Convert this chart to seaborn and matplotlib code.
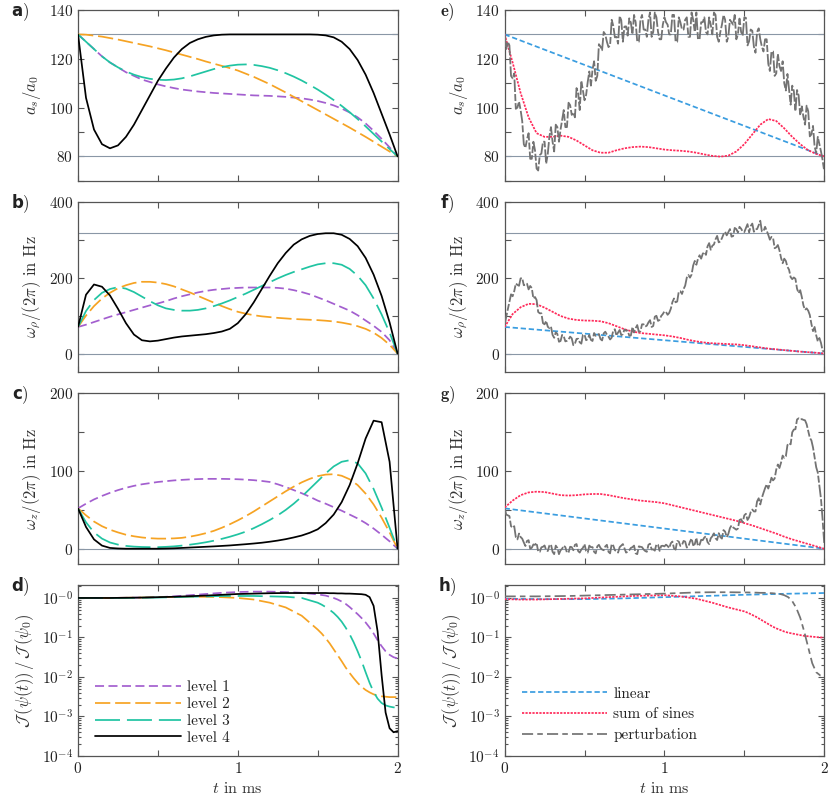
import numpy as np
import matplotlib
matplotlib.use('Agg')
import matplotlib.pyplot as plt
from matplotlib.ticker import AutoMinorLocator, LogLocator, NullFormatter
import seaborn as sns

# time grids (ms)
t = np.round(np.arange(0, 2.0001, 0.05), 3)
t_even = np.round(np.arange(0, 2.0001, 0.02), 3)
t_odd = np.round(np.arange(0.01, 2.0, 0.02), 3)
t_log = np.round(np.concatenate([np.arange(0, 1.5001, 0.1), np.arange(1.525, 2.0001, 0.025)]), 3)
t_lin = [0.0, 2.0]
t_lin_log = [0, 0.25, 0.5, 0.75, 1.0, 1.25, 1.5, 1.75, 2.0]

# ---- panel a: scattering length a_s/a_0
a_level1 = [130, 127, 124, 121, 118.5, 116.5, 114.5, 113, 111.5, 110.5, 109.5, 108.7, 108, 107.4, 107,
            106.6, 106.3, 106, 105.8, 105.6, 105.4, 105.2, 105, 104.9, 104.8, 104.6, 104.4, 104.1, 103.8,
            103.3, 102.7, 101.9, 100.9, 99.6, 98, 96, 93.5, 90.5, 87.2, 83.7, 80]
a_level2 = [130, 129.9, 129.5, 129.1, 128.5, 127.9, 127.2, 126.5, 125.8, 125.1, 124.3, 123.5, 122.6, 121.7,
            120.8, 119.9, 118.9, 118, 117.1, 116.2, 115.2, 113.9, 112.6, 111.1, 109.6, 107.9, 106.2, 104.4,
            102.6, 100.8, 99, 97.2, 95.4, 93.6, 91.8, 89.9, 88, 86, 84, 82, 80]
a_level3 = [130, 127, 124, 121, 118.5, 116.5, 114.8, 113.5, 112.5, 111.8, 111.4, 111.3, 111.5, 112, 112.8,
            113.8, 114.8, 115.8, 116.6, 117.2, 117.6, 117.7, 117.5, 117, 116.3, 115.3, 114.1, 112.7, 111.1,
            109.3, 107.4, 105.3, 103.1, 100.7, 98.1, 95.3, 92.3, 89.2, 86.1, 83, 80]
a_level4 = [130, 104, 91, 85, 83.3, 84.5, 88, 93, 99, 105, 111, 116, 120.5, 124, 126.5, 128, 129, 129.6,
            129.9, 130, 130, 130, 130, 130, 130, 130, 130, 130, 130, 130, 129.9, 129.6, 128.8, 127, 124,
            119.5, 113.5, 106, 97.5, 89, 80]

# ---- panel b: omega_rho/(2 pi) in Hz
b_level1 = [70, 76, 83, 90, 97, 103, 109, 115, 121, 127, 132, 138, 145, 151, 156, 161, 165, 168, 170, 172,
            173, 174, 174, 174, 174, 173, 171, 167, 162, 156, 148, 140, 131, 122, 113, 101, 87, 73, 57, 35, 0]
b_level2 = [70, 100, 125, 145, 160, 172, 180, 186, 189, 189, 187, 183, 177, 169, 161, 152, 143, 134, 125, 117,
            110, 105, 101, 98, 96, 94, 92.5, 91, 90, 89, 88, 86.5, 84.5, 81.5, 77.5, 72, 65, 55, 41, 23, 0]
b_level3 = [70, 112, 141, 160, 170, 175, 171, 162, 150, 138, 127, 119, 115, 113, 113, 115, 119, 125, 132, 140,
            149, 158, 168, 178, 188, 198, 207, 215, 222, 229, 235, 238, 238, 234, 223, 205, 180, 145, 103, 55, 0]
b_level4 = [70, 155, 182, 176, 153, 118, 80, 50, 35, 32, 34, 38, 42, 45, 47, 49, 51, 54, 58, 65, 80, 104, 135,
            170, 205, 238, 265, 287, 301, 310, 315, 317, 317, 313, 302, 283, 252, 208, 152, 82, 0]

# ---- panel c: omega_z/(2 pi) in Hz
c_level1 = [52, 58, 63.5, 68, 72, 75.5, 78.5, 81, 83, 84.5, 86, 87, 88, 88.7, 89.3, 89.7, 90, 90, 90, 89.8,
            89.5, 89, 88.3, 87.3, 86, 83, 79.5, 75.5, 71.5, 67, 62, 58, 53.5, 49, 44, 39, 33, 26, 18, 9.5, 0]
c_level2 = [52, 43, 35, 29, 24.5, 21, 18, 16, 14.5, 13.5, 13, 13, 13.3, 14, 15.5, 17.5, 20, 23, 27, 31.5,
            36.5, 42, 48, 54.5, 61, 67.5, 74, 80, 85.5, 90, 93.5, 95.5, 96, 94, 89.5, 82, 71, 57, 40, 21, 0]
c_level3 = [52, 34, 21, 13, 8, 5.3, 3.6, 2.7, 2.2, 2, 2, 2.4, 3, 4, 5.2, 6.6, 8.3, 10.3, 12.7, 15.4, 18.5,
            22, 26.5, 31.5, 37, 43, 50, 58, 67, 77, 87, 97, 106, 112, 114, 110, 97, 77, 53, 27, 0]
c_level4 = [52, 28, 12, 4, 1, 0.3, 0, 0, 0, 0, 0, 0.2, 0.5, 1, 1.5, 2, 2.5, 3, 3.6, 4.2, 5, 5.8, 6.7, 7.7, 9,
            10.5, 12.3, 14.5, 17, 20.5, 25, 33, 44, 60, 82, 110, 142, 165, 163, 112, 0]

# ---- panel d: log10 of the fidelity ratio
d_level1 = [0, 0, 0, 0.005, 0.01, 0.02, 0.04, 0.07, 0.1, 0.13, 0.15, 0.16, 0.16, 0.15, 0.13, 0.09,
            0.075, 0.06, 0.03, 0, -0.04, -0.09, -0.15, -0.23, -0.32, -0.41, -0.51, -0.62, -0.75, -0.9,
            -1.07, -1.22, -1.35, -1.44, -1.5, -1.53]
d_level2 = [0, 0, 0, 0.005, 0.01, 0.02, 0.025, 0.03, 0.03, 0.02, 0, -0.04, -0.12, -0.24, -0.45, -0.8,
            -0.9, -1.02, -1.15, -1.3, -1.45, -1.6, -1.76, -1.9, -2.03, -2.15, -2.25, -2.33, -2.39, -2.44,
            -2.47, -2.49, -2.5, -2.51, -2.51, -2.51]
d_level3 = [0, 0, 0, 0, 0.005, 0.01, 0.02, 0.03, 0.04, 0.05, 0.05, 0.05, 0.04, 0.03, 0, -0.12,
            -0.17, -0.23, -0.3, -0.38, -0.48, -0.6, -0.75, -0.92, -1.12, -1.35, -1.6, -1.88, -2.15, -2.38,
            -2.55, -2.66, -2.72, -2.75, -2.77, -2.77]
d_level4 = [0, 0, 0, 0.005, 0.01, 0.02, 0.03, 0.045, 0.06, 0.08, 0.1, 0.11, 0.12, 0.125, 0.125, 0.125,
            0.125, 0.125, 0.12, 0.12, 0.115, 0.115, 0.11, 0.11, 0.105, 0.1, 0.095, 0.08, 0.02, -0.2,
            -0.85, -1.95, -2.9, -3.3, -3.4, -3.37]

# ---- right column: linear ramp, sum of sines, perturbation
e_linear = [130, 80]
f_linear = [70, 0]
g_linear = [52, 0]
e_sines = [130, 118.5, 106, 96, 89.5, 88, 88, 88.5, 88, 86.5, 84.5, 82.5, 81.5, 81.5, 82.5, 83.3, 83.8, 84,
           83.8, 83.3, 82.8, 82.5, 82.3, 82, 81.5, 80.8, 80.2, 79.9, 80.3, 82, 85, 89, 93, 95.3, 94.5, 91.5,
           88, 85, 82.5, 81, 80]
f_sines = [70, 104, 122, 131, 130, 121, 110, 99, 92, 88.5, 87, 86.5, 85, 80, 72, 64, 58, 54, 52, 50, 48, 45,
           41, 36, 32, 29, 27, 26, 25, 24, 22, 19, 16, 13, 11, 9, 7, 5, 3.5, 2, 0]
g_sines = [53, 62, 69, 72.5, 73.5, 73, 71, 69, 68.5, 69, 70, 70.5, 70.5, 69, 67, 65, 63.5, 62, 61, 60, 58.5,
           56, 53.5, 51, 48.5, 46, 43.5, 41, 38.5, 36, 33, 30, 26.5, 23, 19.5, 15.5, 12, 9, 6, 3, 0]

# noisy perturbation guess, read on t_even and t_odd
e_perturb_even = [130, 127, 113, 114, 100, 99, 85, 87, 79, 86, 75, 80.5, 86, 77, 88, 86, 93, 86, 95, 92, 102,
                  97, 96, 106, 111, 103, 110.5, 109, 119, 113, 125, 131, 127, 125.5, 133.5, 129, 137.5, 127,
                  133.3, 136.6, 130, 135, 127, 138, 132, 136, 129, 139, 131, 128, 137, 134, 130, 138, 127,
                  135, 132, 137, 129, 136, 139, 128, 135, 131, 137, 130, 138, 127, 134, 136, 129, 135, 138,
                  130, 131, 137, 125.5, 132, 125, 131, 128, 123, 128, 115, 123, 114, 117, 119, 107, 107.5,
                  109, 98.5, 105, 100.5, 93, 98.5, 89, 84, 88, 82, 74]
e_perturb_odd = [124, 125.5, 112, 99.5, 102.5, 94.5, 83.5, 89.5, 79, 82.5, 74.2, 81.2, 86, 81, 92, 82, 92,
                 91, 99, 92, 101, 98, 108, 99, 107, 105.2, 114.8, 115.5, 111, 126, 123.5, 130, 124.8, 136,
                 128.8, 126.2, 135.8, 133.2, 129.5, 134.8, 138, 127, 136, 132, 129, 139, 131, 137, 128, 134,
                 135, 130, 138, 127, 137, 132, 136, 129, 139, 131, 128, 135, 137, 130, 134, 139, 129, 131,
                 138, 127, 136, 134, 128, 136.5, 129.5, 136.8, 127.2, 131.5, 122.5, 132.5, 125, 128, 118,
                 123, 113, 122, 115, 110, 113.8, 101.2, 106.8, 107.2, 96.8, 96.2, 100.8, 88.2, 92.5, 81.5,
                 85, 78.5]
f_perturb_even = [75, 117, 156, 164, 181, 198, 180, 184, 178, 145, 141, 106, 80, 86, 67, 49, 56, 31, 49, 32,
                  37, 40, 26, 39, 26, 50, 38, 36, 54, 49, 38, 53, 50, 37, 61, 47, 62, 51, 60, 47, 70, 67, 57,
                  77, 71, 82, 70, 97, 86, 99, 111, 102, 118, 145, 137, 164, 170, 200, 200, 232, 234, 259,
                  263, 260, 291, 284, 301, 293, 304, 321, 320, 308, 331, 319, 329, 320, 341, 336, 321, 328,
                  350, 322, 324, 300, 305, 280, 272, 238, 244, 221, 196, 197, 159, 149, 115, 113, 78, 70,
                  32, 28, 5]
f_perturb_odd = [97, 136.5, 151, 184.5, 178.5, 199, 181, 169, 172.5, 149, 109.5, 106, 77, 70.5, 71, 41.5,
                 51.5, 33, 45.5, 33.5, 44.5, 22, 38.5, 29.5, 49, 35, 49, 33, 46.5, 51.5, 34.5, 57.5, 44.5,
                 42, 64, 55.5, 48.5, 63.5, 60.5, 47.5, 55.5, 75, 59, 77, 73.5, 88, 72.5, 99.5, 88.5, 104,
                 109.5, 107, 135.5, 135, 163.5, 157, 179, 207, 208, 244, 249.5, 250, 267.5, 282.5, 273.5,
                 287.5, 310, 295.5, 314.5, 311.5, 328, 309.5, 328, 334, 321.5, 330.5, 319.5, 342.5, 327.5,
                 338, 322, 334, 313, 307.5, 277.5, 286, 252, 250, 228.5, 201.5, 200.5, 171, 167, 127, 119,
                 101.5, 59, 48, 41, 7.5]
g_perturb_even = [52, 43, 29, 29, 12, 15, 8, 10, 0, 5.5, 7.5, -4, 2.5, -2, 4, -4, 4, -7, 0, 2, -5, 2, 5, -3,
                  -1, 6, -5, 2, -4, 3, 1, -2, 5, -6, 4, -3, 2, 6, -5, -2, 2, -6, 3, 2, -3, 5, -1, -2.5, 5,
                  3.5, 3, 3.5, 7, 0.5, 10, 3.5, 10, 1.5, 9, 4.5, 14, 5, 11, 16, 6, 16, 13.5, 20, 13, 22, 19,
                  30, 26, 26, 38, 43, 37, 47, 48, 61, 57, 72, 83, 84, 88, 102, 104, 120, 119, 136, 150, 154,
                  168, 167, 165.5, 151.5, 139.5, 118, 98, 64, 7.5]
g_perturb_odd = [44, 42, 27, 15, 19.5, 13, 3.5, 11, 1.2, 5, -3.8, 1.8, 4.2, -3, 5.5, -7, 1, -2, 4, -5, 2.5,
                 -2, 6, -5, 1, -3, 4, 2, -6, 5, -1, 3, -4, 6, -2, -5, 4, 0.5, -4, 1, 4, -7, 2.5, -1, -4,
                 6.5, -0.8, 5.8, -2.8, 3.8, 5.2, 0.8, 9.2, -1.2, 9.2, 4.8, 9.2, 2.8, 13.2, 5.8, 3.5, 11.5,
                 14.5, 8.5, 13.5, 19.8, 11.2, 15, 24, 15, 26.5, 27.5, 24.5, 37, 34, 45, 40.5, 50.5, 48, 65,
                 65.5, 78, 77.5, 91.5, 90.5, 108.5, 111, 117, 133.5, 134.5, 153.5, 166.5, 166.5, 166,
                 160.5, 143, 130.5, 105, 81, 38]

# ---- panel h: log10 of the fidelity ratio for the initial guesses
h_linear = [-0.02, -0.03, -0.03, -0.01, 0.02, 0.05, 0.08, 0.105, 0.125]
h_sines = [-0.03, -0.04, -0.04, -0.03, -0.02, -0.01, 0.01, 0.03, 0.05, 0.06, 0.07, 0.04, -0.02, -0.12, -0.24,
           -0.34, -0.38, -0.43, -0.48, -0.54, -0.6, -0.66, -0.72, -0.77, -0.81, -0.85, -0.88, -0.9, -0.92,
           -0.94, -0.96, -0.97, -0.98, -0.99, -1.0, -1.0]
h_perturb = [0.04, 0.04, 0.04, 0.045, 0.05, 0.06, 0.07, 0.08, 0.09, 0.1, 0.11, 0.125, 0.14, 0.145, 0.145,
             0.14, 0.14, 0.135, 0.135, 0.13, 0.13, 0.125, 0.12, 0.11, 0.1, 0.07, 0.02, -0.08, -0.25, -0.5,
             -0.85, -1.25, -1.65, -1.88, -1.96, -1.97]

level_labels = ['level 1', 'level 2', 'level 3', 'level 4']
method_labels = ['linear', 'sum of sines', 'perturbation']

# styles
level_colors = ['#a35fcf', '#f6a323', '#20c4a2', '#000000']
level_dashes = [(0, (6.5, 3.2)), (0, (11, 3.5)), (0, (18, 5)), '-']
method_colors = ['#3a9de0', '#ff2a5a', '#737373']
method_dashes = [(0, (3.8, 2.0)), (0, (1.6, 0.9)), (0, (8, 3, 4, 3))]
noisy_dash = (0, (9, 1.5, 5, 1.5))
ref_color = '#8a97a6'

sns.set_theme(style='ticks')
plt.rcParams.update({
    'font.family': 'serif',
    'font.serif': ['cmr10'],
    'mathtext.fontset': 'cm',
    'axes.formatter.use_mathtext': True,
    'font.size': 11,
    'axes.labelsize': 12,
    'xtick.labelsize': 11,
    'ytick.labelsize': 11,
    'lines.scale_dashes': False,
    'axes.edgecolor': '#555555',
    'axes.linewidth': 0.9,
    'text.color': '#222222',
    'axes.labelcolor': '#333333',
    'xtick.color': '#555555',
    'ytick.color': '#555555',
    'xtick.labelcolor': '#222222',
    'ytick.labelcolor': '#222222',
})

fig, axes = plt.subplots(4, 2, figsize=(8.3, 7.96), dpi=100)
fig.subplots_adjust(left=0.094, right=0.993, top=0.9874, bottom=0.0503, hspace=0.123, wspace=0.335)


def draw(ax, x, y, color, ls, label=None, lw=1.25):
    sns.lineplot(x=x, y=y, ax=ax, color=color, linestyle=ls, lw=lw, label=label, zorder=3)


def merge(even, odd):
    tt = np.concatenate([t_even, t_odd])
    vv = np.concatenate([even, odd])
    order = np.argsort(tt)
    return tt[order], vv[order]


def style_linear(ax, ylim, yticks, refs):
    for r in refs:
        ax.axhline(r, color=ref_color, lw=0.8, zorder=1)
    ax.set_ylim(*ylim)
    ax.set_yticks(yticks)
    ax.yaxis.set_minor_locator(AutoMinorLocator(2))


def style_log(ax):
    ax.set_yscale('log')
    ax.set_ylim(1e-4, 2.1)
    ax.set_yticks([1e-4, 1e-3, 1e-2, 1e-1, 1])
    ax.set_yticklabels([r'$10^{-4}$', r'$10^{-3}$', r'$10^{-2}$', r'$10^{-1}$', r'$10^{-0}$'])
    ax.yaxis.set_minor_locator(LogLocator(base=10, subs=np.arange(2, 10)))
    ax.yaxis.set_minor_formatter(NullFormatter())


# left column: optimisation levels
for i in range(4):
    draw(axes[0, 0], t, [a_level1, a_level2, a_level3, a_level4][i], level_colors[i], level_dashes[i])
    draw(axes[1, 0], t, [b_level1, b_level2, b_level3, b_level4][i], level_colors[i], level_dashes[i])
    draw(axes[2, 0], t, [c_level1, c_level2, c_level3, c_level4][i], level_colors[i], level_dashes[i])
    d_vals = 10 ** np.array([d_level1, d_level2, d_level3, d_level4][i])
    draw(axes[3, 0], t_log, d_vals, level_colors[i], level_dashes[i], label=level_labels[i])

# right column: initial guesses
rows = [(e_linear, e_sines, e_perturb_even, e_perturb_odd),
        (f_linear, f_sines, f_perturb_even, f_perturb_odd),
        (g_linear, g_sines, g_perturb_even, g_perturb_odd)]
for r, (lin, sines, pe, po) in enumerate(rows):
    ax = axes[r, 1]
    draw(ax, t_lin, lin, method_colors[0], method_dashes[0])
    draw(ax, t, sines, method_colors[1], method_dashes[1])
    tp, vp = merge(pe, po)
    draw(ax, tp, vp, method_colors[2], noisy_dash, lw=1.3)
draw(axes[3, 1], t_lin_log, 10 ** np.array(h_linear), method_colors[0], method_dashes[0], label=method_labels[0])
draw(axes[3, 1], t_log, 10 ** np.array(h_sines), method_colors[1], method_dashes[1], label=method_labels[1])
draw(axes[3, 1], t_log, 10 ** np.array(h_perturb), method_colors[2], method_dashes[2], label=method_labels[2])

for col in range(2):
    style_linear(axes[0, col], (70, 140), [80, 100, 120, 140], [80, 130])
    style_linear(axes[1, col], (-50, 400), [0, 200, 400], [0, 318])
    style_linear(axes[2, col], (-20, 200), [0, 100, 200], [0])
    style_log(axes[3, col])
    axes[0, col].set_ylabel(r'$a_s/a_0$')
    axes[1, col].set_ylabel(r'$\omega_\rho/(2\pi)$ in Hz')
    axes[2, col].set_ylabel(r'$\omega_z/(2\pi)$ in Hz')
    axes[3, col].set_ylabel(r'$\mathcal{J}\,(\psi(t))\,/\,\mathcal{J}\,(\psi_0)$')
    axes[3, col].set_xlabel(r'$t$ in ms', fontsize=11.5)

legend_kw = dict(loc='lower left', frameon=False, handlelength=5.6, handletextpad=0.4, fontsize=11)
axes[3, 0].legend(bbox_to_anchor=(0.01, -0.015), labelspacing=0.2, **legend_kw)
axes[3, 1].legend(bbox_to_anchor=(0.01, 0.0), labelspacing=0.45, **legend_kw)

for ax in axes.flat:
    ax.set_xlim(0, 2)
    ax.set_xticks([0, 1, 2])
    ax.xaxis.set_minor_locator(AutoMinorLocator(2))
    ax.tick_params(which='both', direction='in', top=True, right=True, width=0.8)
    ax.tick_params(which='major', length=4)
    ax.tick_params(which='minor', length=4)
    ax.yaxis.labelpad = 4
for ax in axes[3]:
    ax.tick_params(axis='y', which='minor', length=2.2)
for ax in axes[:3].flat:
    ax.set_xticklabels([])

# panel letters (some render serif, some sans in the original)
letters = [['a', 'e'], ['b', 'f'], ['c', 'g'], ['d', 'h']]
for r in range(4):
    for c in range(2):
        ax = axes[r, c]
        letter = letters[r][c]
        if letter in ('e', 'g'):
            ax.text(-0.18, 0.99, r'$\mathbf{%s})$' % letter, transform=ax.transAxes,
                    ha='center', va='center', fontsize=12)
        else:
            ax.text(-0.18, 0.99, letter + r'$)$', transform=ax.transAxes, ha='center', va='center',
                    fontsize=12, fontfamily='DejaVu Sans', fontweight='bold')

fig.savefig('out.png', dpi=100)
